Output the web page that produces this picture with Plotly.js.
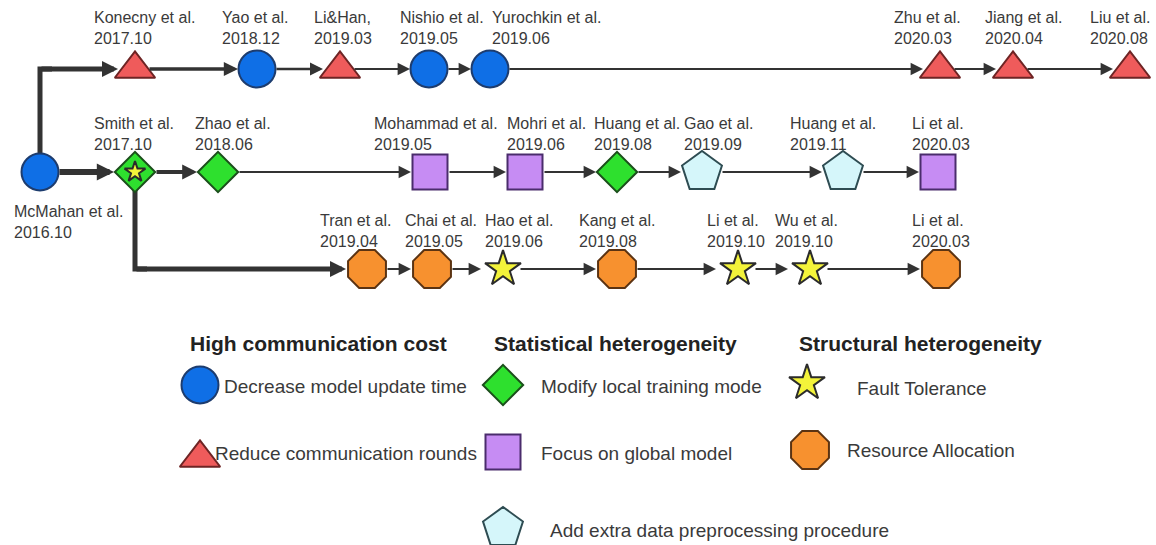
<!DOCTYPE html>
<html><head><meta charset="utf-8">
<script src="https://cdn.plot.ly/plotly-3.0.1.min.js"></script>
<style>html,body{margin:0;padding:0;background:#fff;} #chart{width:1156px;height:545px;}</style>
</head><body><div id="chart"></div>
<script>
// ---------- DATA ----------
const authors = ["McMahan et al.","Konecny et al.","Yao et al.","Li&Han,","Nishio et al.","Yurochkin et al.","Zhu et al.","Jiang et al.","Liu et al.",
  "Smith et al.","Zhao et al.","Mohammad et al.","Mohri et al.","Huang et al.","Gao et al.","Huang et al.","Li et al.",
  "Tran et al.","Chai et al.","Hao et al.","Kang et al.","Li et al.","Wu et al.","Li et al."];
const dates = ["2016.10","2017.10","2018.12","2019.03","2019.05","2019.06","2020.03","2020.04","2020.08",
  "2017.10","2018.06","2019.05","2019.06","2019.08","2019.09","2019.11","2020.03",
  "2019.04","2019.05","2019.06","2019.08","2019.10","2019.10","2020.03"];
const methods = ["update","rounds","update","rounds","update","update","rounds","rounds","rounds",
  "local+fault","local","global","global","local","preproc","preproc","global",
  "resource","resource","fault","resource","fault","fault","resource"];
const nodeX = [40,135,257,340,429,490,940,1013,1130,
  135,218,430,525,617,702,843,938,
  367,432,503,617,738,810,941];
const nodeRow = ["mid","top","top","top","top","top","top","top","top",
  "mid","mid","mid","mid","mid","mid","mid","mid",
  "bot","bot","bot","bot","bot","bot","bot"];
// links: [from, to, elbow]
const linkFrom = [0,1,2,3,4,5,6,7, 0,9,10,11,12,13,14,15, 9,17,18,19,20,21,22];
const linkTo   = [1,2,3,4,5,6,7,8, 9,10,11,12,13,14,15,16, 17,18,19,20,21,22,23];
const linkElbow= [1,0,0,0,0,0,0,0, 0,0,0,0,0,0,0,0, 1,0,0,0,0,0,0];

const legendHeaders = ["High communication cost","Statistical heterogeneity","Structural heterogeneity"];
const legendMethods = ["update","rounds","local","global","preproc","fault","resource"];
const legendTexts = ["Decrease model update time","Reduce communication rounds","Modify local training mode",
  "Focus on global model","Add extra data preprocessing procedure","Fault Tolerance","Resource Allocation"];

// ---------- STYLE / LAYOUT ----------
const rowY = {top:69, mid:172, bot:269};
const labelOffset = {top:-41, mid:-38, bot:-38};
const labelBelow = [1,0,0,0,0,0,0,0,0, 0,0,0,0,0,0,0,0, 0,0,0,0,0,0,0];
const labelX = [12,92,220,312,398,490,892,983,1088,
  92,193,372,505,592,682,788,910,
  318,403,483,577,705,773,910];
const linkWidth = [5,3.5,2.5,2,2,2,2,2, 6,4,2,2,2,2,2,2, 5,2,2,2,2,2,2];
const mstyle = {
  update:  {symbol:'circle',      size:37, color:'#0f6fe6', line:'#1d3c6e', tip:19, start:18},
  rounds:  {symbol:'triangle-up', size:35, color:'#ef5b5b', line:'#6e2424', tip:17, start:13},
  local:   {symbol:'diamond',     size:31, color:'#2ee02e', line:'#1b4f1b', tip:21, start:20},
  global:  {symbol:'square',      size:35, color:'#c68cf3', line:'#4a2c6c', tip:19, start:18},
  preproc: {symbol:'pentagon',    size:42, color:'#d5f6fa', line:'#2e4c52', tip:21, start:19},
  fault:   {symbol:'star',        size:27, color:'#f3f33a', line:'#2b2b2b', tip:22, start:16},
  resource:{symbol:'octagon',     size:41, color:'#f7912f', line:'#5b3312', tip:21, start:19}
};
const headerX = [188,492,797], headerY = 343;
const legMarkX = [200,200,503,503,503,807,810];
const legMarkY = [385,458,385,452,528,383,450];
const legTextX = [222,213,539,539,548,855,845];
const legTextY = [386,453,386,453,530,388,450];

const FONT = 'Liberation Sans, Arial, Helvetica, sans-serif';
const LINE = '#333333';

const yOf = i => rowY[nodeRow[i]];
const prim = i => methods[i].split('+')[0];

const traces = [];
const annotations = [];

// elbow polylines (under markers)
linkFrom.forEach((f, k) => {
  if (!linkElbow[k]) return;
  const t = linkTo[k];
  const cx = nodeX[f], cy = yOf(t);
  traces.push({x:[nodeX[f], cx, cx + 12], y:[yOf(f), cy, cy], mode:'lines',
    line:{color:LINE, width:linkWidth[k]}, hoverinfo:'skip', showlegend:false});
});

// arrows
linkFrom.forEach((f, k) => {
  const t = linkTo[k];
  const elbow = linkElbow[k];
  const ax = nodeX[f], ay = yOf(t);
  const w = linkWidth[k];
  const headLen = 10 + w * 1.2;
  annotations.push({x:nodeX[t], y:yOf(t), ax:ax, ay:ay, xref:'x', yref:'y', axref:'x', ayref:'y',
    text:'', showarrow:true, arrowhead:2, arrowwidth:w, arrowsize:headLen/(5*w), arrowcolor:LINE,
    standoff: mstyle[prim(t)].tip, startstandoff: elbow ? 0 : mstyle[prim(f)].start});
});

// node markers by method
Object.keys(mstyle).forEach(m => {
  const xs = [], ys = [], sz = [];
  methods.forEach((ms, i) => {
    const parts = ms.split('+');
    const idx = parts.indexOf(m);
    if (idx < 0) return;
    xs.push(nodeX[i]); ys.push(yOf(i));
    sz.push(idx === 0 ? mstyle[m].size : mstyle[m].size * 0.58);
  });
  if (!xs.length) return;
  traces.push({x:xs, y:ys, mode:'markers', hoverinfo:'skip', showlegend:false,
    marker:{symbol:mstyle[m].symbol, size:sz, opacity:1, color:mstyle[m].color, line:{color:mstyle[m].line, width:2}}});
});

// node labels
authors.forEach((a, i) => {
  const r = nodeRow[i];
  const y = labelBelow[i] ? rowY[r] + 50 : rowY[r] + labelOffset[r];
  annotations.push({x:labelX[i], y:y, xref:'x', yref:'y', xanchor:'left', yanchor:'middle', align:'left',
    showarrow:false, text:a + '<br>' + dates[i], font:{family:FONT, size:16, color:'#3a3a3a'}});
});

// legend
legendHeaders.forEach((h, k) => {
  annotations.push({x:headerX[k], y:headerY, xref:'x', yref:'y', xanchor:'left', yanchor:'middle',
    showarrow:false, text:'<b>' + h + '</b>', font:{family:FONT, size:21, color:'#222'}});
});
legendMethods.forEach((m, k) => {
  const st = mstyle[m];
  traces.push({x:[legMarkX[k]], y:[legMarkY[k]], mode:'markers', hoverinfo:'skip', showlegend:false,
    marker:{symbol:st.symbol, size:st.size, opacity:1, color:st.color, line:{color:st.line, width:2}}});
  annotations.push({x:legTextX[k], y:legTextY[k], xref:'x', yref:'y', xanchor:'left', yanchor:'middle',
    showarrow:false, text:legendTexts[k], font:{family:FONT, size:19, color:'#3a3a3a'}});
});

const layout = {
  width:1156, height:545, margin:{l:0,r:0,t:0,b:0},
  paper_bgcolor:'#fff', plot_bgcolor:'#fff', showlegend:false,
  xaxis:{range:[0,1156], visible:false, fixedrange:true},
  yaxis:{range:[545,0], visible:false, fixedrange:true},
  annotations:annotations
};
Plotly.newPlot('chart', traces, layout, {staticPlot:true, displayModeBar:false});
</script>
</body></html>
